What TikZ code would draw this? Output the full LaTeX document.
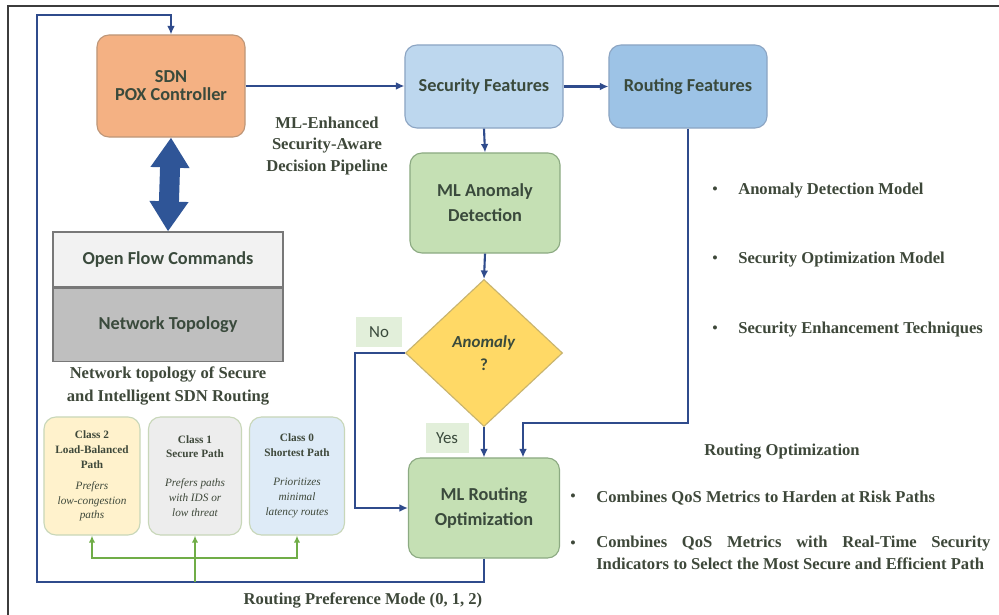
\documentclass[tikz,border=0pt]{standalone}
\usepackage{fontspec}
\setmainfont{Liberation Serif}
\newfontfamily\boxfont{Carlito}
\usetikzlibrary{arrows.meta,shapes.geometric}

\definecolor{txt}{RGB}{62,72,58}
\definecolor{boxtxt}{RGB}{58,74,60}
\definecolor{sdnfill}{RGB}{244,177,131}
\definecolor{sdnline}{RGB}{190,150,120}
\definecolor{secfill}{RGB}{189,215,238}
\definecolor{routfill}{RGB}{157,195,230}
\definecolor{blueline}{RGB}{140,165,195}
\definecolor{grnfill}{RGB}{197,224,180}
\definecolor{grnline}{RGB}{140,170,130}
\definecolor{diafill}{RGB}{255,217,102}
\definecolor{dialine}{RGB}{200,180,110}
\definecolor{offill}{RGB}{242,242,242}
\definecolor{ntfill}{RGB}{191,191,191}
\definecolor{grayline}{RGB}{120,120,120}
\definecolor{cltwo}{RGB}{255,242,204}
\definecolor{clone}{RGB}{237,237,237}
\definecolor{clzero}{RGB}{222,235,247}
\definecolor{clline}{RGB}{200,215,185}
\definecolor{lblfill}{RGB}{226,239,218}
\definecolor{flowblue}{RGB}{47,75,140}
\definecolor{flowgreen}{RGB}{112,173,71}
\definecolor{bigblue}{RGB}{47,85,151}
\definecolor{framecol}{RGB}{60,60,60}

\begin{document}
\begin{tikzpicture}[x=0.025cm,y=-0.025cm,
  rbox/.style={rounded corners=0.3cm, line width=0.8pt, align=center, inner sep=2pt,
    font=\boxfont\bfseries\fontsize{13}{13}\selectfont, text=boxtxt},
  sqbox/.style={line width=0.8pt, align=center, inner sep=2pt, draw=grayline,
    font=\boxfont\bfseries\fontsize{13}{13}\selectfont, text=boxtxt},
  clbox/.style={rounded corners=0.3cm, line width=0.8pt, draw=clline, align=center,
    inner sep=1pt, minimum height=2.95cm, text=txt,
    font=\bfseries\fontsize{8}{10.6}\selectfont},
  lbl/.style={fill=lblfill, inner sep=0pt, minimum height=0.75cm,
    font=\boxfont\fontsize{12}{12}\selectfont, text=boxtxt},
  serif/.style={align=center, text=txt, inner sep=0pt,
    font=\bfseries\fontsize{11.8}{16}\selectfont},
  bul/.style={text=txt, inner sep=0pt, font=\fontsize{12}{12}\selectfont},
  flow/.style={draw=flowblue, line width=1.5pt, -{Latex[length=6pt,width=5.5pt]}},
  flowline/.style={draw=flowblue, line width=1.5pt},
  gflow/.style={draw=flowgreen, line width=1.5pt, -{Latex[length=5pt,width=4.5pt]}},
  gline/.style={draw=flowgreen, line width=1.5pt}
]
\useasboundingbox (0,0) rectangle (999,615);
\fill[white] (0,0) rectangle (999,615);
\draw[framecol, line width=1pt] (999,6) -- (8,6) -- (8,615);

% main boxes
\node[rbox, draw=sdnline, fill=sdnfill, minimum width=3.7cm, minimum height=2.55cm,
  font=\boxfont\bfseries\fontsize{13}{12.8}\selectfont] (sdn) at (171,86) {SDN\\POX Controller};
\node[rbox, draw=blueline, fill=secfill, minimum width=3.95cm, minimum height=2.075cm] (sf) at (484,86.5) {Security Features};
\node[rbox, draw=blueline, fill=routfill, minimum width=3.95cm, minimum height=2.075cm] (rf) at (688,86.5) {Routing Features};
\node[rbox, draw=grnline, fill=grnfill, minimum width=3.75cm, minimum height=2.5cm,
  font=\boxfont\bfseries\fontsize{13}{17.7}\selectfont] (ad) at (485,203) {ML Anomaly\\Detection};
\node[diamond, draw=dialine, fill=diafill, line width=0.8pt, minimum width=3.925cm,
  minimum height=3.675cm, inner sep=0pt, align=center, text=boxtxt,
  font=\boxfont\bfseries\fontsize{12}{16}\selectfont] (dia) at (484,353) {\textit{Anomaly}\\?};
\node[rbox, draw=grnline, fill=grnfill, minimum width=3.775cm, minimum height=2.5cm,
  font=\boxfont\bfseries\fontsize{13}{17.7}\selectfont] (mlr) at (484,508) {ML Routing\\Optimization};

% openflow stack
\node[sqbox, fill=offill, minimum width=5.75cm, minimum height=1.375cm] (of) at (168,259.5) {Open Flow Commands};
\node[sqbox, fill=ntfill, minimum width=5.75cm, minimum height=1.825cm, anchor=north] (nt) at (of.south) {Network Topology};

% class boxes
\node[clbox, fill=cltwo, minimum width=2.4cm] (c2) at (92,476)
  {Class 2\\Load-Balanced\\Path\\[4.3pt]\mdseries\itshape Prefers\\\mdseries\itshape low-congestion\\\mdseries\itshape paths};
\node[clbox, fill=clone, minimum width=2.325cm] (c1) at (195,476)
  {Class 1\\Secure Path\\[10pt]\mdseries\itshape Prefers paths\\\mdseries\itshape with IDS or\\\mdseries\itshape low threat};
\node[clbox, fill=clzero, minimum width=2.375cm] (c0) at (297,476)
  {Class 0\\Shortest Path\\[10pt]\mdseries\itshape Prioritizes\\\mdseries\itshape minimal\\\mdseries\itshape latency routes};

% labels
\node[lbl, minimum width=1.125cm] (no) at (379,332) {No};
\node[lbl, minimum width=1.075cm] (yes) at (447,438) {Yes};

% texts
\node[serif, font=\bfseries\fontsize{11.8}{15.6}\selectfont] (pipe) at (327,146) {ML-Enhanced\\Security-Aware\\Decision Pipeline};
\node[serif, font=\bfseries\fontsize{11.8}{16.3}\selectfont] (ntl) at (168,386) {Network topology of Secure\\and Intelligent SDN Routing};
\node[serif] (rpm) at (363,600) {Routing Preference Mode (0, 1, 2)};
\node[serif] (ro) at (782,452) {Routing Optimization};

\foreach \yy/\tt [count=\i] in {191/Anomaly Detection Model, 260/Security Optimization Model, 330/Security Enhancement Techniques}{
  \node[bul] (b\i) at (715,\yy) {\textbullet};
  \node[serif, anchor=west] (t\i) at (738,\yy) {\tt};
}
\node[bul] (b4) at (573,498) {\textbullet};
\node[serif, anchor=west] (t4) at (596,498) {Combines QoS Metrics to Harden at Risk Paths};
\node[bul] (b5) at (573,545) {\textbullet};
\node[serif, anchor=north west, align=left, font=\bfseries\fontsize{11.8}{15.6}\selectfont] (t5) at (596,536)
  {\parbox{9.85cm}{Combines\hfill QoS\hfill Metrics\hfill with\hfill Real-Time\hfill Security\\Indicators to Select the Most Secure and Efficient Path}};

% double arrow
\draw[bigblue, line width=0.5cm, {Triangle[width=0.925cm,length=0.75cm]}-{Triangle[width=0.925cm,length=0.75cm]}]
  (sdn.south) -- (of.north);

% connectors
\coordinate (lb) at (37,582);
\coordinate (lt) at (37,15);
\coordinate (nc) at (355,353);
\coordinate (rc) at (523,423);
\coordinate (gj) at (195,582);
\coordinate (gm) at (195,558);

\draw[flow] (sdn.east) -- (sdn.east -| sf.west);
\draw[flow] (sf.east) -- (rf.west);
\draw[flow] (sf.south) -- (ad.north);
\draw[flow] (ad.south) -- (dia.north);
\draw[flow] (dia.south) -- (mlr.north -| dia.south);
\draw[flow] (dia.west) -- (nc) |- (mlr.west);
\draw[flow] (rf.south) |- (rc) -- (rc |- mlr.north);
\draw[flow] (mlr.south) |- (lb) -- (lt) -| (sdn.north);

\draw[gflow] (gj) -- (c1.south);
\draw[gflow] (gm) -| (c2.south);
\draw[gflow] (gm) -| (c0.south);
\end{tikzpicture}
\end{document}
